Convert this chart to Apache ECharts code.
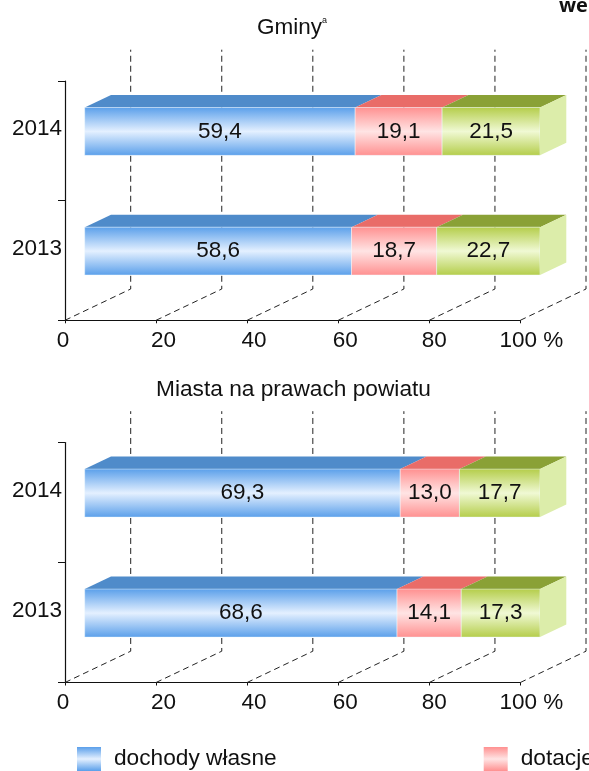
<!DOCTYPE html>
<html>
<head>
<meta charset="utf-8">
<style>
  html, body { margin: 0; padding: 0; background: #fff; overflow: hidden; }
  #chart { width: 589px; height: 771px; }
</style>
<script src="https://cdn.jsdelivr.net/npm/echarts@6/dist/echarts.min.js"></script>
</head>
<body>
<div id="chart"></div>
<script>
  // dane
  const years = ['2013', '2014']
  const xTicks = [0, 20, 40, 60, 80, 100]
  const seriesNames = ['dochody własne', 'dotacje', 'subwencja ogólna']

  const gminyWlasne = [58.6, 59.4]
  const gminyDotacje = [18.7, 19.1]
  const gminySubwencja = [22.7, 21.5]

  const miastaWlasne = [68.6, 69.3]
  const miastaDotacje = [14.1, 13.0]
  const miastaSubwencja = [17.3, 17.7]

  const FONT = '"Liberation Sans", Arial, sans-serif'
  const TEXT = '#111'
  const SIZE = 22.5

  // przesuniecie "3D": tylna sciana wykresu wzgledem osi
  const wallDx = 65.7
  const wallDy = 31.3
  const barFront = 0.3 // glebokosc przedniej sciany slupka
  const barBack = 0.7

  function grad(edge, mid) {
    return {
      type: 'linear', x: 0, y: 0, x2: 0, y2: 1,
      colorStops: [
        { offset: 0, color: edge },
        { offset: 0.5, color: mid },
        { offset: 1, color: edge },
      ],
    }
  }

  const fronts = [
    grad('#5a9fea', '#e4f0ff'),
    grad('#ff9090', '#ffe4e4'),
    grad('#b4cd4a', '#f0f9d4'),
  ]
  const tops = ['#4f8bca', '#e96c68', '#8aa136']
  const sideColor = '#dcedaa'

  // przerywane linie siatki na podlodze i tylnej scianie
  function wallSeries(gridIndex) {
    return {
      type: 'custom',
      xAxisIndex: gridIndex,
      yAxisIndex: gridIndex,
      silent: true,
      z: 1,
      clip: false,
      data: xTicks.map((t) => [t, 0]),
      encode: { x: 0, y: 1 },
      renderItem: (params, api) => {
        const x = api.coord([api.value(0), 0])[0]
        const cs = params.coordSys
        const bottom = cs.y + cs.height
        return {
          type: 'polyline',
          shape: {
            points: [
              [x, bottom],
              [x + wallDx, bottom - wallDy],
              [x + wallDx, cs.y - wallDy],
            ],
          },
          style: { fill: 'none', stroke: '#222', lineWidth: 1, lineDash: [6, 4] },
        }
      },
    }
  }

  function barSeries(gridIndex, k, values, stackBase) {
    const last = k === fronts.length - 1
    return {
      type: 'custom',
      name: seriesNames[k],
      xAxisIndex: gridIndex,
      yAxisIndex: gridIndex,
      z: 2 + k,
      clip: false,
      itemStyle: { color: fronts[k] },
      data: values.map((v, i) => [i, stackBase[i], stackBase[i] + v, v]),
      encode: { x: [1, 2], y: 0 },
      renderItem: (params, api) => {
        const a = api.coord([api.value(1), api.value(0)])
        const b = api.coord([api.value(2), api.value(0)])
        const band = api.size([0, 1])[1]
        const h = band * 0.4
        const fx = wallDx * barFront
        const fy = wallDy * barFront
        const ddx = wallDx * (barBack - barFront)
        const ddy = wallDy * (barBack - barFront)
        const x0 = a[0] + fx
        const x1 = b[0] + fx
        const y0 = a[1] - fy - h / 2
        const y1 = y0 + h
        const children = [
          {
            type: 'polygon',
            shape: { points: [[x0, y0], [x1, y0], [x1 + ddx, y0 - ddy], [x0 + ddx, y0 - ddy]] },
            style: { fill: tops[k] },
          },
          {
            type: 'rect',
            shape: { x: x0, y: y0, width: x1 - x0, height: h },
            style: { fill: fronts[k], stroke: 'rgba(240,248,255,0.8)', lineWidth: 0.6 },
          },
          {
            type: 'text',
            style: {
              x: (x0 + x1) / 2,
              y: (y0 + y1) / 2,
              text: api.value(3).toFixed(1).replace('.', ','),
              align: 'center',
              verticalAlign: 'middle',
              fill: TEXT,
              font: SIZE + 'px ' + FONT,
            },
          },
        ]
        if (last) {
          children.push({
            type: 'polygon',
            shape: { points: [[x1, y0], [x1 + ddx, y0 - ddy], [x1 + ddx, y1 - ddy], [x1, y1]] },
            style: { fill: sideColor },
          })
        }
        return { type: 'group', children }
      },
    }
  }

  function panelSeries(gridIndex, panel) {
    const list = [wallSeries(gridIndex)]
    const base = years.map(() => 0)
    panel.forEach((values, k) => {
      list.push(barSeries(gridIndex, k, values, base.slice()))
      values.forEach((v, i) => { base[i] += v })
    })
    return list
  }

  // etykiety osi X w oryginale nie sa dokladnie pod kreskami
  const tickRich = { fontFamily: FONT, fontSize: SIZE, color: TEXT }
  const xLabelRich = {
    l0: { ...tickRich, padding: [0, 4, 0, 0] },
    l20: { ...tickRich, padding: [0, 0, 0, 15] },
    l40: { ...tickRich, padding: [0, 0, 0, 14] },
    l60: { ...tickRich, padding: [0, 0, 0, 14] },
    l80: { ...tickRich, padding: [0, 0, 0, 10] },
    l100: { ...tickRich, padding: [0, 0, 0, 22] },
  }

  function xAxis(gridIndex) {
    return {
      type: 'value',
      gridIndex,
      min: 0,
      max: 100,
      interval: 20,
      splitLine: { show: false },
      axisLine: { show: true, onZero: false, lineStyle: { color: '#111', width: 1.2 } },
      axisTick: { show: true, length: 3, lineStyle: { color: '#111' } },
      axisLabel: {
        margin: 9,
        rich: xLabelRich,
        formatter: (v) => `{l${v}|${v === 100 ? '100 %' : v}}`,
      },
    }
  }

  function yAxis(gridIndex) {
    return {
      type: 'category',
      gridIndex,
      data: years,
      axisLine: { show: true, onZero: false, lineStyle: { color: '#111', width: 1.2 } },
      axisTick: { show: true, length: 7, lineStyle: { color: '#111' } },
      axisLabel: {
        margin: 3,
        rich: { y: { ...tickRich, padding: [0, 0, 24, 0] } },
        formatter: (v) => `{y|${v}}`,
      },
    }
  }

  const chart = echarts.init(document.getElementById('chart'), null, { renderer: 'canvas' })

  chart.setOption({
    backgroundColor: '#fff',
    animation: false,
    title: [
      {
        text: '{t|Gminy}{s|a}',
        left: 257,
        top: 16,
        padding: 0,
        textStyle: {
          fontWeight: 'normal',
          rich: {
            t: { fontFamily: FONT, fontSize: SIZE, fontWeight: 'normal', color: TEXT },
            s: { fontFamily: FONT, fontSize: 9, fontWeight: 'normal', color: TEXT, verticalAlign: 'top' },
          },
        },
      },
      {
        text: 'Miasta na prawach powiatu',
        left: 156,
        top: 378,
        padding: 0,
        textStyle: { fontFamily: FONT, fontSize: 22.7, fontWeight: 'normal', color: TEXT },
      },
      {
        text: 'we',
        left: 559,
        top: -4,
        padding: 0,
        textStyle: { fontFamily: '"Open Sans", sans-serif', fontSize: 20, fontWeight: 'bold', color: '#111' },
      },
    ],
    legend: {
      data: seriesNames.slice(0, 2),
      left: 77,
      top: 747,
      width: 1200,
      padding: 0,
      itemWidth: 24,
      itemHeight: 24,
      itemGap: 207,
      icon: 'rect',
      selectedMode: false,
      textStyle: { color: TEXT, fontFamily: FONT, fontSize: 22.7, padding: [0, 0, 0, 8] },
    },
    grid: [
      { left: 65, width: 455.3, top: 81, height: 239.3 },
      { left: 65, width: 455.3, top: 442.5, height: 240 },
    ],
    xAxis: [xAxis(0), xAxis(1)],
    yAxis: [yAxis(0), yAxis(1)],
    series: [
      ...panelSeries(0, [gminyWlasne, gminyDotacje, gminySubwencja]),
      ...panelSeries(1, [miastaWlasne, miastaDotacje, miastaSubwencja]),
    ],
  })
</script>
</body>
</html>
